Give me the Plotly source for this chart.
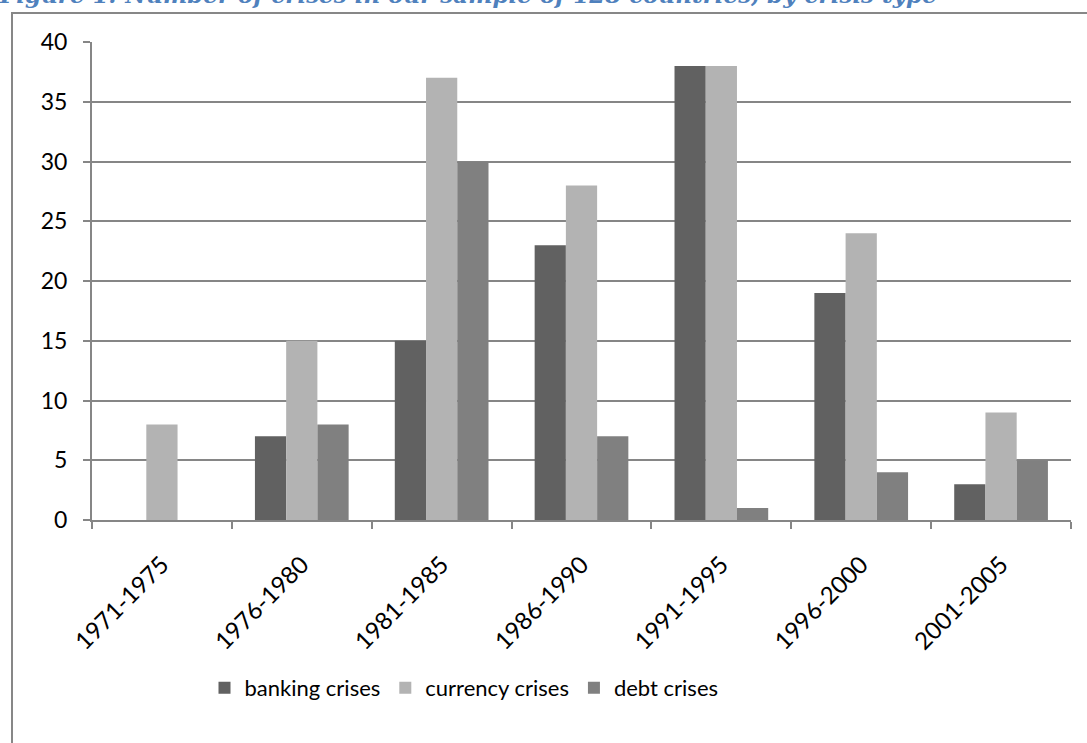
import plotly.graph_objects as go

periods = ["1971-1975", "1976-1980", "1981-1985", "1986-1990", "1991-1995", "1996-2000", "2001-2005"]
banking = [0, 7, 15, 23, 38, 19, 3]
currency = [8, 15, 37, 28, 38, 24, 9]
debt = [0, 8, 30, 7, 1, 4, 5]

series_names = ["banking crises", "currency crises", "debt crises"]
series_colors = ["#616161", "#b3b3b3", "#808080"]

W, H = 1087, 743
L, R, T, B = 92, 16, 42, 223
pw = W - L - R
ph = H - T - B

def px_x(p):
    return (p - L) / pw

def px_y(p):
    return (H - B - p) / ph

fig = go.Figure()
for name, vals, col in zip(series_names, [banking, currency, debt], series_colors):
    fig.add_trace(go.Bar(x=periods, y=vals, name=name, marker=dict(color=col, line=dict(width=0))))

font_family = "Lato, 'Open Sans', sans-serif"

fig.update_layout(
    width=W, height=H,
    margin=dict(l=L, r=R, t=T, b=B, autoexpand=False),
    paper_bgcolor="white", plot_bgcolor="white",
    barmode="group", bargap=0.33, bargroupgap=0,
    font=dict(family=font_family, size=22, color="black"),
    showlegend=True,
    legend=dict(orientation="h", x=px_x(464), xanchor="center", y=px_y(688), yanchor="middle",
                font=dict(size=22), itemwidth=30, traceorder="normal"),
    xaxis=dict(showline=True, linecolor="#868686", linewidth=2, ticks="outside", ticklen=7,
               tickcolor="#868686", tickwidth=2, tickson="boundaries", tickangle=-45,
               tickfont=dict(size=24), showgrid=False, ticklabelstandoff=19),
    yaxis=dict(range=[0, 40], dtick=5, showline=True, linecolor="#868686", linewidth=2,
               ticks="outside", ticklen=7, tickcolor="#868686", tickwidth=2,
               showgrid=True, gridcolor="#868686", gridwidth=2, zeroline=False,
               tickfont=dict(size=23), ticklabelstandoff=11),
)

fig.add_shape(type="rect", xref="paper", yref="paper",
              x0=px_x(12), x1=px_x(1200), y0=px_y(900), y1=px_y(13),
              line=dict(color="#878787", width=2), fillcolor="rgba(0,0,0,0)", layer="below")

fig.add_annotation(text="<b><i>Figure 1: Number of crises in our sample of 128 countries, by crisis type</i></b>",
                   xref="paper", yref="paper", x=px_x(-3), y=px_y(-5), xanchor="left", yanchor="middle",
                   showarrow=False, font=dict(family="'DejaVu Serif', serif", size=23, color="#4f81bd"))

fig.write_html("out.html", config={"displayModeBar": False},
               post_script="document.body.style.margin='0';")
